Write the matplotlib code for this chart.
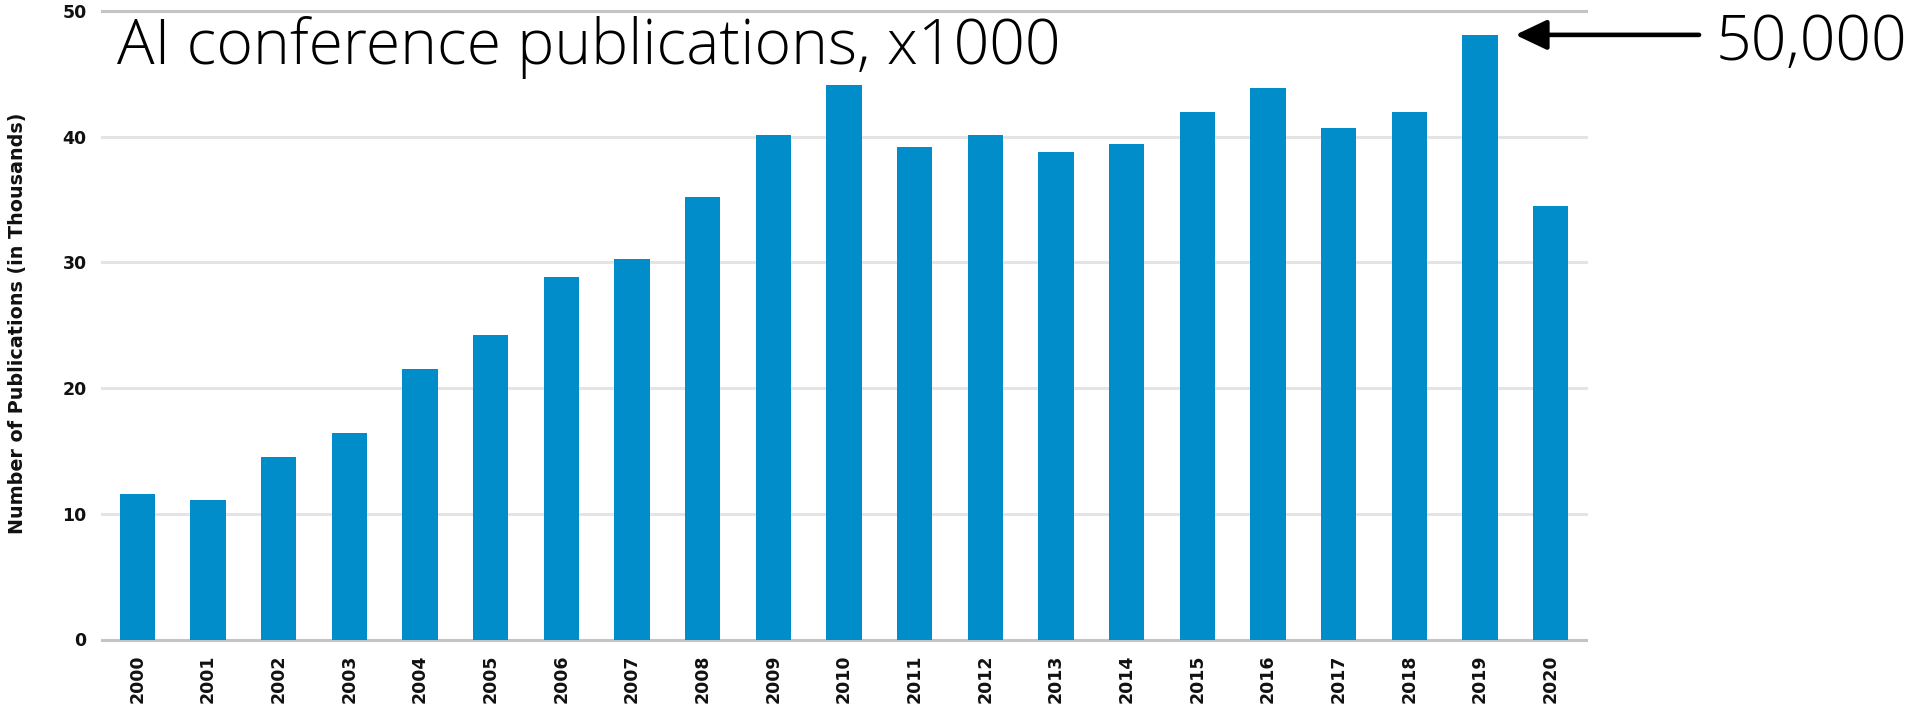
import numpy as np
import matplotlib
matplotlib.use("Agg")
import matplotlib.pyplot as plt

years = [str(y) for y in range(2000, 2021)]
pubs_k = [11.6, 11.1, 14.5, 16.4, 21.5, 24.2, 28.8, 30.3, 35.2, 40.1, 44.1,
          39.2, 40.1, 38.8, 39.4, 42.0, 43.9, 40.7, 42.0, 48.1, 34.5]
y_ticks = [0, 10, 20, 30, 40, 50]

title = "AI conference publications, x1000"
callout = "50,000"
ylabel = "Number of Publications (in Thousands)"

bar_color = "#008DCA"
grid_color = "#E4E4E4"
edge_color = "#C4C4C4"

W, H = 1916, 715
fig = plt.figure(figsize=(W / 100, H / 100), dpi=100)
ax = fig.add_axes([102 / W, 1 - 639.5 / H, 1484 / W, 628.5 / H])

x = np.arange(len(years))
ax.bar(x, pubs_k, width=0.5, color=bar_color, zorder=3)

ax.set_xlim(-0.5, len(years) - 0.5)
ax.set_ylim(0, 50)
ax.set_yticks(y_ticks)
ax.set_xticks(x)
ax.set_xticklabels(years, rotation=90)

for v in y_ticks:
    c = edge_color if v in (0, 50) else grid_color
    ax.axhline(v, color=c, lw=2.2, zorder=1, clip_on=False)

for s in ax.spines.values():
    s.set_visible(False)
ax.tick_params(length=0, pad=11, labelsize=12.5, labelcolor="#111111")
for lab in ax.get_xticklabels() + ax.get_yticklabels():
    lab.set_fontweight("bold")

fig.text(18 / W, 1 - 323 / H, ylabel, rotation=90, ha="center", va="center",
         fontsize=13.8, fontweight="bold", color="#111111")

# headline and the callout arrow pointing at the peak year
head_font = dict(fontsize=45, family="Open Sans", fontweight="light", color="black")
fig.text(117 / W, 1 - 64 / H, title, ha="left", va="baseline", **head_font)

peak = int(np.argmax(pubs_k))
ax.annotate("", xy=(peak + 0.5, pubs_k[peak]), xytext=(peak + 3.1, pubs_k[peak]),
            arrowprops=dict(arrowstyle="-|>,head_length=0.8,head_width=0.38",
                            mutation_scale=24, lw=3.3, color="black",
                            shrinkA=0, shrinkB=0),
            annotation_clip=False)
fig.text(1716 / W, 1 - 60 / H, callout, ha="left", va="baseline", **head_font)

fig.savefig("out.png", dpi=100)
